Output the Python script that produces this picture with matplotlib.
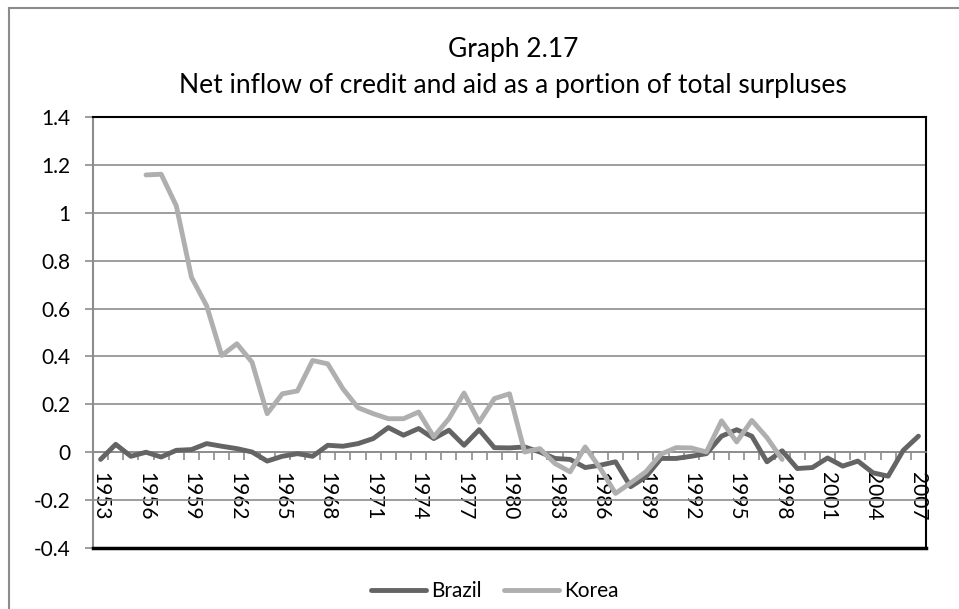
import matplotlib
matplotlib.use("Agg")
import matplotlib.pyplot as plt
from matplotlib.lines import Line2D
import numpy as np

years = list(range(1953, 2008))

brazil = [-0.03, 0.033, -0.017, 0.0, -0.02, 0.008, 0.011, 0.036, 0.025, 0.015,
          0.001, -0.037, -0.017, -0.006, -0.017, 0.029, 0.025, 0.036, 0.057, 0.103,
          0.071, 0.099, 0.057, 0.092, 0.029, 0.094, 0.019, 0.018, 0.022, 0.001,
          -0.026, -0.03, -0.064, -0.054, -0.04, -0.144, -0.103, -0.026, -0.026, -0.017,
          -0.006, 0.067, 0.094, 0.067, -0.04, 0.006, -0.068, -0.064, -0.024, -0.058,
          -0.037, -0.086, -0.1, 0.008, 0.067]

korea_years = list(range(1956, 1999))
korea = [1.158, 1.161, 1.029, 0.731, 0.612, 0.404, 0.453, 0.376, 0.161, 0.244,
         0.256, 0.383, 0.369, 0.265, 0.186, 0.161, 0.14, 0.14, 0.168, 0.064,
         0.14, 0.247, 0.126, 0.224, 0.244, 0.001, 0.015, -0.047, -0.082, 0.022,
         -0.068, -0.172, -0.128, -0.082, -0.008, 0.019, 0.018, 0.001, 0.131, 0.043,
         0.133, 0.061, -0.03]

y_ticks = [-0.4, -0.2, 0, 0.2, 0.4, 0.6, 0.8, 1, 1.2, 1.4]
y_labels = ["-0.4", "-0.2", "0", "0.2", "0.4", "0.6", "0.8", "1", "1.2", "1.4"]
label_years = list(range(1953, 2008, 3))

title_lines = ["Graph 2.17", "Net inflow of credit and aid as a portion of total surpluses"]

FONT = "Lato"
BRAZIL_C = "#646464"
KOREA_C = "#AFAFAF"
GRID_C = "#8C8C8C"

W, H = 959, 609
fig = plt.figure(figsize=(W / 100, H / 100), dpi=100)
fig.patch.set_facecolor("white")

# chart-area frame (left and top edges)
fig.add_artist(Line2D([9 / W, 9 / W], [0, 1 - 8 / H], color="#8C8C8C", lw=1.5,
                      transform=fig.transFigure))
fig.add_artist(Line2D([9 / W, 1], [1 - 8 / H, 1 - 8 / H], color="#8C8C8C", lw=1.5,
                      transform=fig.transFigure))

left, right, top, bottom = 93, 926, 117, 548
ax = fig.add_axes([left / W, 1 - bottom / H, (right - left) / W, (bottom - top) / H])

ax.set_xlim(years[0] - 0.5, years[-1] + 0.5)
ax.set_ylim(-0.4, 1.4)

ax.set_yticks(y_ticks)
ax.set_yticklabels(y_labels, fontfamily=FONT, fontsize=15)
ax.yaxis.grid(True, color=GRID_C, lw=1.2)
ax.set_axisbelow(True)
ax.tick_params(axis="y", direction="out", length=6, width=1.2, color=GRID_C, pad=10)

# category axis crossing at zero
ax.spines["bottom"].set_position(("data", 0))
ax.spines["bottom"].set_color(GRID_C)
ax.spines["bottom"].set_linewidth(1.2)
ax.spines["left"].set_color(GRID_C)
ax.spines["left"].set_linewidth(1.5)
for side in ("top", "right"):
    ax.spines[side].set_color("black")
    ax.spines[side].set_linewidth(1.5)
ax.axhline(-0.4, color="black", lw=2.5, clip_on=False, zorder=5)

bounds = np.arange(years[0] - 0.5, years[-1] + 1.0, 1.0)
ax.set_xticks(bounds)
ax.set_xticklabels([])
ax.tick_params(axis="x", which="major", direction="out", length=6, width=1.2, color=GRID_C)
ax.set_xticks(label_years, minor=True)
ax.set_xticklabels([str(y) for y in label_years], minor=True, rotation=-90,
                   fontfamily=FONT, fontsize=15)
ax.tick_params(axis="x", which="minor", length=0, pad=14)

l_br, = ax.plot(years, brazil, color=BRAZIL_C, lw=3.5, solid_capstyle="round",
                solid_joinstyle="round", label="Brazil", zorder=3)
l_ko, = ax.plot(korea_years, korea, color=KOREA_C, lw=3.5, solid_capstyle="round",
                solid_joinstyle="round", label="Korea", zorder=3)

fig.text(0.535, 1 - 50 / H, title_lines[0], ha="center", va="center",
         fontfamily=FONT, fontsize=19)
fig.text(0.535, 1 - 85 / H, title_lines[1], ha="center", va="center",
         fontfamily=FONT, fontsize=19)

fig.legend(handles=[l_br, l_ko], loc="center", bbox_to_anchor=(0.516, 1 - 591 / H),
           ncol=2, frameon=False, prop={"family": FONT, "size": 15},
           handlelength=2.6, handletextpad=0.25, columnspacing=1.1)

fig.savefig("out.png", dpi=100, facecolor="white")
